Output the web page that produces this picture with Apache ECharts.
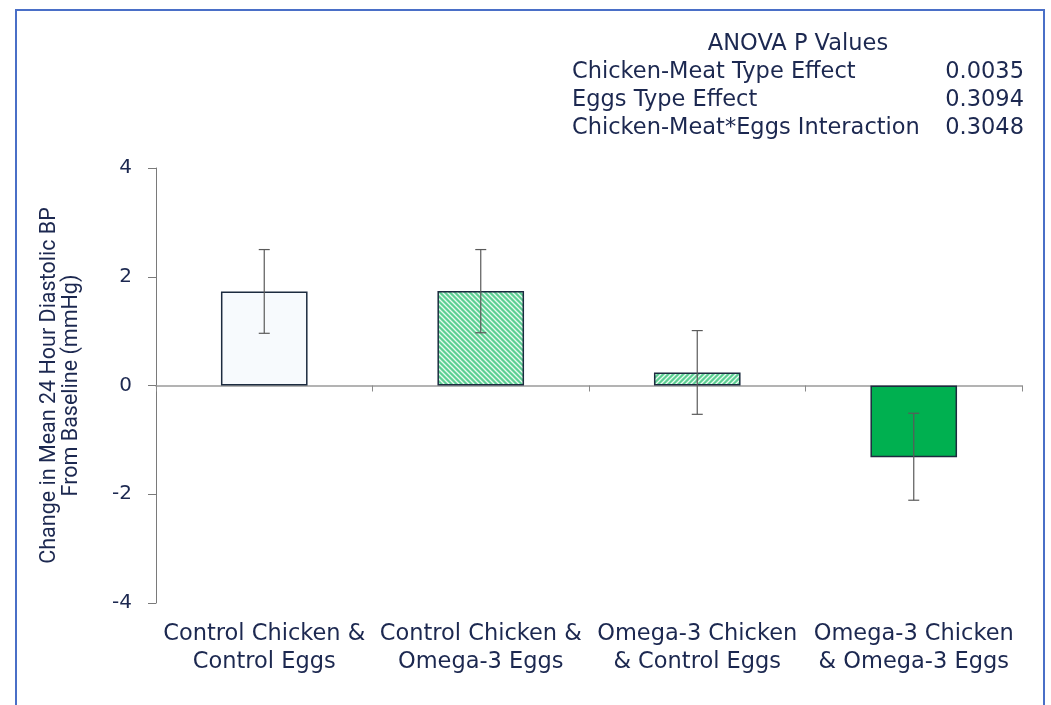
<!DOCTYPE html>
<html><head><meta charset="utf-8">
<script src="https://cdn.jsdelivr.net/npm/echarts@6/dist/echarts.min.js"></script>
<style>html,body{margin:0;padding:0;background:#fff}#c{width:1051px;height:705px}</style>
</head><body><div id="c"></div>
<script>
const categories = ['Control Chicken &\nControl Eggs', 'Control Chicken &\nOmega-3 Eggs', 'Omega-3 Chicken\n& Control Eggs', 'Omega-3 Chicken\n& Omega-3 Eggs'];
const means = [1.73, 1.74, 0.24, -1.32];
const errLow = [0.96, 0.97, -0.53, -2.11];
const errHigh = [2.50, 2.50, 1.01, -0.51];
const yTicks = [-4, -2, 0, 2, 4];
const anovaTitle = 'ANOVA P Values';
const anovaLabels = ['Chicken-Meat Type Effect', 'Eggs Type Effect', 'Chicken-Meat*Eggs Interaction'];
const anovaValues = ['0.0035', '0.3094', '0.3048'];

function hatch(dir) {
  const c = document.createElement('canvas');
  c.width = 5; c.height = 5;
  const g = c.getContext('2d');
  g.fillStyle = '#5ccf93'; g.fillRect(0, 0, 5, 5);
  g.strokeStyle = '#e8fbf0'; g.lineWidth = 1.3;
  g.beginPath();
  if (dir > 0) { g.moveTo(-1, -1); g.lineTo(6, 6); g.moveTo(-6, -1); g.lineTo(1, 6); g.moveTo(4, -1); g.lineTo(11, 6); }
  else { g.moveTo(-1, 6); g.lineTo(6, -1); g.moveTo(-6, 6); g.lineTo(1, -1); g.moveTo(4, 6); g.lineTo(11, -1); }
  g.stroke();
  return c;
}
const fills = ['#f7fafd', { image: hatch(1), repeat: 'repeat' }, { image: hatch(-1), repeat: 'repeat' }, '#00b050'];
const txt = '#1c2850';
const font = 'DejaVu Sans';
const tf = '22.5px "DejaVu Sans"';

const chart = echarts.init(document.getElementById('c'), null, { renderer: 'canvas' });
const graphics = [
  { type: 'rect', shape: { x: 16, y: 10, width: 1028, height: 710 }, style: { fill: 'none', stroke: '#4a6fc7', lineWidth: 2 }, silent: true },
  { type: 'text', x: 798, y: 44, style: { text: anovaTitle, fill: txt, font: tf, textAlign: 'center', textVerticalAlign: 'middle' } }
];
anovaLabels.forEach((l, i) => {
  graphics.push({ type: 'text', x: 572, y: 72 + 28 * i, style: { text: l, fill: txt, font: tf, textAlign: 'left', textVerticalAlign: 'middle' } });
  graphics.push({ type: 'text', x: 1024, y: 72 + 28 * i, style: { text: anovaValues[i], fill: txt, font: tf, textAlign: 'right', textVerticalAlign: 'middle' } });
});

chart.setOption({
  animation: false,
  grid: { left: 156, right: 29, top: 168, bottom: 102 },
  graphic: graphics,
  xAxis: {
    type: 'category', data: categories,
    axisLine: { onZero: true, lineStyle: { color: '#9a9a9a', width: 1.5 } },
    axisTick: { show: true, alignWithLabel: false, length: 6, lineStyle: { color: '#8a8a8a' } },
    axisLabel: { interval: 0, color: txt, fontFamily: font, fontSize: 22.5, lineHeight: 28, margin: 17 },
    position: 'bottom'
  },
  yAxis: {
    type: 'value', min: -4, max: 4, interval: 2,
    name: 'Change in Mean 24 Hour Diastolic BP\nFrom Baseline (mmHg)',
    nameLocation: 'middle', nameRotate: 90, nameGap: 73,
    nameTextStyle: { color: txt, fontFamily: 'Roboto', fontSize: 21.5, lineHeight: 22 },
    axisLine: { show: true, lineStyle: { color: '#7a7a7a', width: 1 } },
    axisTick: { show: true, length: 8, lineStyle: { color: '#7a7a7a' } },
    axisLabel: { color: txt, fontFamily: font, fontSize: 20, margin: 24 },
    splitLine: { show: false }
  },
  series: [
    {
      type: 'bar', barWidth: '40%',
      data: means.map((v, i) => ({ value: v, itemStyle: { color: fills[i], borderColor: '#1c2b3f', borderWidth: 1.5 } }))
    },
    {
      type: 'custom', z: 5,
      data: means.map((v, i) => [i, errLow[i], errHigh[i]]),
      renderItem: (params, api) => {
        const x = api.coord([api.value(0), 0])[0];
        const lo = api.coord([api.value(0), api.value(1)])[1];
        const hi = api.coord([api.value(0), api.value(2)])[1];
        const w = 5.5;
        const st = { stroke: '#5a5a5a', lineWidth: 1.2 };
        return { type: 'group', children: [
          { type: 'line', shape: { x1: x, y1: lo, x2: x, y2: hi }, style: st },
          { type: 'line', shape: { x1: x - w, y1: lo, x2: x + w, y2: lo }, style: st },
          { type: 'line', shape: { x1: x - w, y1: hi, x2: x + w, y2: hi }, style: st }
        ] };
      }
    }
  ]
});
</script></body></html>
